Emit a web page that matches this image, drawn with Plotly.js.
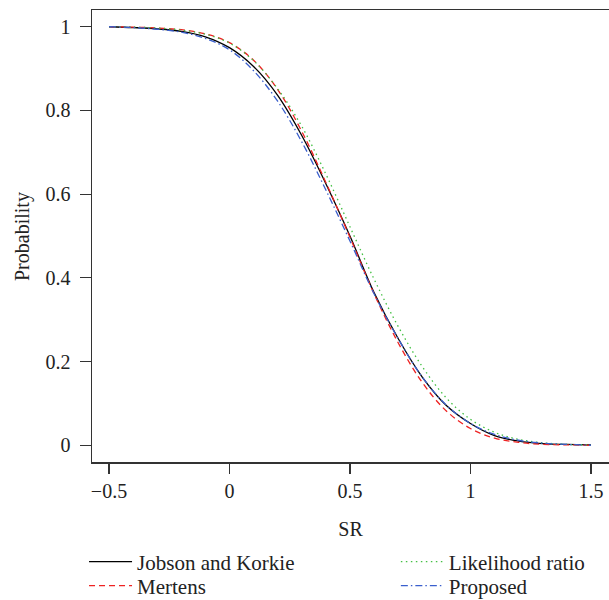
<!DOCTYPE html>
<html>
<head>
<meta charset="utf-8">
<script src="https://cdn.plot.ly/plotly-3.0.1.min.js"></script>
<style>html,body{margin:0;padding:0;background:#fff}#chart{width:609px;height:600px}</style>
</head>
<body>
<div id="chart"></div>
<script>
// SR grid (x values)
var sr = [-0.5,-0.4,-0.3,-0.2,-0.1,0.0,0.1,0.2,0.3,0.4,0.5,0.6,0.7,0.8,0.9,1.0,1.1,1.2,1.3,1.4,1.5];
// Probability values
var jobsonKorkie = [1.000,0.998,0.995,0.989,0.976,0.950,0.905,0.836,0.740,0.625,0.500,0.365,0.255,0.163,0.095,0.052,0.023,0.010,0.004,0.002,0.001];
var mertens      = [1.000,0.999,0.997,0.993,0.983,0.962,0.920,0.850,0.750,0.628,0.497,0.362,0.245,0.150,0.082,0.040,0.017,0.007,0.002,0.001,0.000];
var likelihood   = [1.000,0.999,0.997,0.992,0.982,0.961,0.919,0.852,0.762,0.648,0.522,0.397,0.284,0.188,0.113,0.062,0.031,0.014,0.006,0.002,0.001];
var proposed     = [1.000,0.998,0.994,0.987,0.972,0.945,0.895,0.822,0.725,0.610,0.488,0.362,0.255,0.163,0.096,0.052,0.026,0.012,0.005,0.002,0.000];
var xTicks = [-0.5,0,0.5,1,1.5];
var xTickText = ['\u22120.5','0','0.5','1','1.5'];
var yTicks = [0,0.2,0.4,0.6,0.8,1];
var yTickText = ['0','0.2','0.4','0.6','0.8','1'];
var xTitle = 'SR';
var yTitle = 'Probability';

var FONT = 'Liberation Serif, DejaVu Serif, serif';
function tr(name, y, color, dash, legend){
  return {x: sr, y: y, type:'scatter', mode:'lines', name: name, legend: legend,
    line:{color: color, width: 1.3, dash: dash, shape:'spline', smoothing:1}};
}
var data = [
  tr('Jobson and Korkie', jobsonKorkie, '#000000', 'solid', 'legend'),
  tr('Mertens', mertens, '#ee2222', '6px,4px', 'legend2'),
  tr('Likelihood ratio', likelihood, '#44c044', '1.5px,3.5px', 'legend3'),
  tr('Proposed', proposed, '#3a5fcd', '7px,3px,1.5px,3px', 'legend4')
];
function leg(x, y){
  return {xref:'container', yref:'container', x: x, y: y, xanchor:'left', yanchor:'middle',
    orientation:'v', bgcolor:'rgba(0,0,0,0)', font:{family:FONT, size:21, color:'#222'}, itemwidth:43};
}
var layout = {
  width: 609, height: 600,
  margin: {l: 92, r: 0, t: 10, b: 138, autoexpand: false},
  paper_bgcolor:'#fff', plot_bgcolor:'#fff',
  font: {family: FONT, size: 20, color:'#222'},
  showlegend: true,
  xaxis: {range: [-0.5705, 1.575], showgrid:false, zeroline:false, automargin:false,
    showline:true, mirror:true, linecolor:'#333', linewidth:1.5,
    ticks:'outside', ticklen:10, tickwidth:1.2, tickcolor:'#333',
    tickvals: xTicks, ticktext: xTickText,
    title: {text: xTitle, standoff: 21, font:{family:FONT, size:20}}},
  yaxis: {range: [-0.04, 1.04], showgrid:false, zeroline:false, automargin:false,
    showline:true, mirror:false, linecolor:'#333', linewidth:1.5,
    ticks:'outside', ticklen:11, tickwidth:1.2, tickcolor:'#333', ticklabelstandoff:5,
    tickvals: yTicks, ticktext: yTickText},
  annotations: [{text: yTitle, textangle:-90, xref:'paper', yref:'paper',
    x: -0.1354, y: 0.5, xanchor:'center', yanchor:'middle', showarrow:false,
    font:{family:FONT, size:20, color:'#222'}}],
  legend: leg(0.138, 0.0633),
  legend2: leg(0.138, 0.0233),
  legend3: leg(0.65, 0.0633),
  legend4: leg(0.65, 0.0233)
};
Plotly.newPlot('chart', data, layout, {displayModeBar:false, staticPlot:true});
</script>
</body>
</html>
